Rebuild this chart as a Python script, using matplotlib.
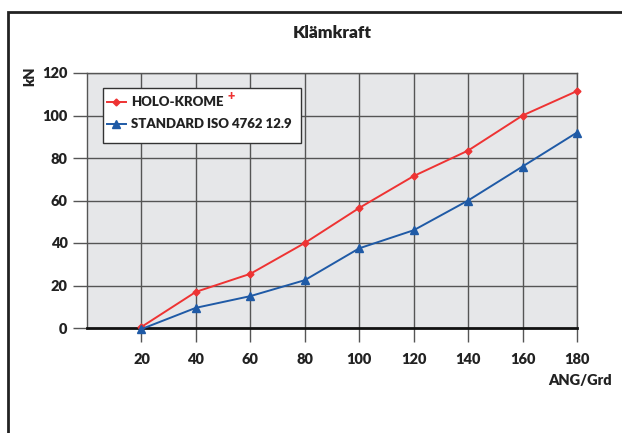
import matplotlib
matplotlib.use("Agg")
import matplotlib.pyplot as plt
from matplotlib.lines import Line2D
from matplotlib.patches import Rectangle

angles = [20, 40, 60, 80, 100, 120, 140, 160, 180]
holo_krome = [0.5, 17, 25.5, 40, 56.5, 71.5, 83.5, 100, 111.5]
standard_iso = [-0.5, 9.5, 15, 22.5, 37.5, 46, 60, 76, 92]
x_ticks = [20, 40, 60, 80, 100, 120, 140, 160, 180]
y_ticks = [0, 20, 40, 60, 80, 100, 120]
series_labels = ['HOLO-KROME', 'STANDARD ISO 4762 12.9']

plt.rcParams['font.family'] = ['Lato', 'DejaVu Sans']
WT = 'heavy'
RED = '#ee3333'
BLUE = '#1f5aa6'

W, H = 622, 433
fig = plt.figure(figsize=(W / 100, H / 100), dpi=100)
fig.patch.set_facecolor('white')


def px(x, y):
    return (x / W, 1 - y / H)


# outer frame
fig.patches.append(Rectangle((8 / W, -0.1), 1.2, (H - 12) / H + 0.1, transform=fig.transFigure,
                             fill=False, edgecolor='#222222', linewidth=2, clip_on=False))

ax = fig.add_axes([87 / W, 1 - 328 / H, (577 - 87) / W, (328 - 73) / H])
ax.set_facecolor('#e6e7e9')
ax.set_xlim(0, 180)
ax.set_ylim(0, 120)

for xv in x_ticks:
    ax.axvline(xv, color='#555555', lw=1.0, zorder=1)
for yv in y_ticks[1:]:
    ax.axhline(yv, color='#555555', lw=1.0, zorder=1)

for s in ['top', 'right', 'left']:
    ax.spines[s].set_color('#555555')
    ax.spines[s].set_linewidth(1.0)
ax.spines['bottom'].set_color('#111111')
ax.spines['bottom'].set_linewidth(2.0)

ax.plot(angles, holo_krome, color=RED, lw=1.4, marker='D', markersize=3.5,
        zorder=3, clip_on=False)
ax.plot(angles, standard_iso, color=BLUE, lw=1.4, marker='^', markersize=5.5,
        zorder=3, clip_on=False)

ax.set_xticks(x_ticks)
ax.set_xticklabels([str(v) for v in x_ticks], fontweight=WT, fontsize=10.5, color='#222222')
ax.set_yticks(y_ticks)
ax.set_yticklabels([str(v) for v in y_ticks], fontweight=WT, fontsize=10.5, color='#222222')
ax.tick_params(axis='x', length=10, width=1, color='#555555', pad=8)
ax.tick_params(axis='y', length=10, width=1, color='#555555', pad=4)

fig.text(0.5 * (87 + 577) / W, 1 - 33 / H, 'Klämkraft', ha='center', va='center',
         fontweight=WT, fontsize=12.5, color='#222222')
fig.text(30 / W, 1 - 76 / H, 'kN', rotation=90, ha='center', va='center',
         fontweight=WT, fontsize=10.5, color='#222222')
fig.text(612 / W, 1 - 381 / H, 'ANG/Grd', ha='right', va='center',
         fontweight=WT, fontsize=10.5, color='#222222')

# custom legend box
x0, y0 = px(103, 143)
x1, y1 = px(301, 88)
fig.patches.append(Rectangle((x0, y0), x1 - x0, y1 - y0, transform=fig.transFigure,
                             facecolor='white', edgecolor='#333333', linewidth=1.0, zorder=5))
for label, color, marker, ms, yy in [(series_labels[0], RED, 'D', 3.5, 102),
                                     (series_labels[1], BLUE, '^', 5.5, 124)]:
    xa, ya = px(107, yy)
    xb, _ = px(126, yy)
    xm, _ = px(116.5, yy)
    fig.lines.append(Line2D([xa, xb], [ya, ya], color=color, lw=1.4,
                            transform=fig.transFigure, zorder=6))
    fig.lines.append(Line2D([xm], [ya], color=color, marker=marker, markersize=ms,
                            transform=fig.transFigure, zorder=6))
    tx, ty = px(131, yy)
    fig.text(tx, ty, label, ha='left', va='center', fontweight=WT, fontsize=9.5,
             color='#222222', zorder=7)

fig.text(*px(231, 96), '+', ha='center', va='center', color=RED,
         fontweight=WT, fontsize=9, zorder=10)

fig.savefig('out.png', dpi=100)
